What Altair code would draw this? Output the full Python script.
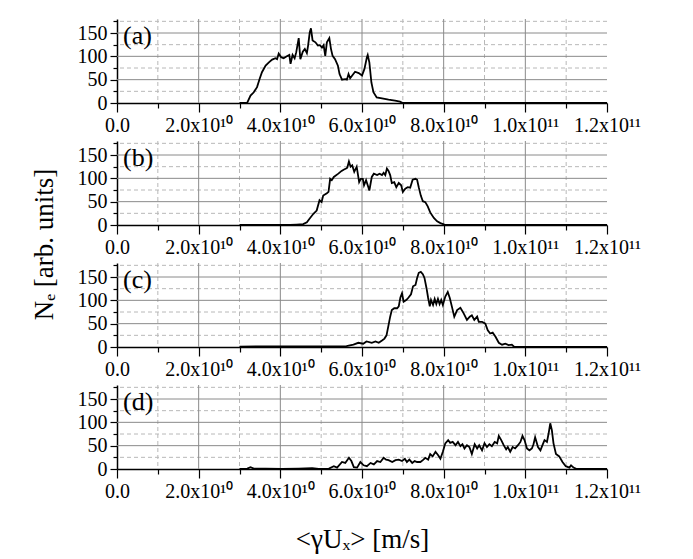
import altair as alt
import pandas as pd

FONT = "Liberation Serif"

# x values in units of 1e10 m/s
a_x = [3.0, 3.19, 3.27, 3.35, 3.43, 3.49, 3.55, 3.64, 3.72, 3.80,
       3.88, 3.92, 3.96, 4.02, 4.08, 4.16, 4.22, 4.25, 4.30, 4.35,
       4.39, 4.45, 4.49, 4.55, 4.60, 4.65, 4.68, 4.72, 4.75, 4.79,
       4.86, 4.92, 4.97, 5.02, 5.06, 5.10, 5.14, 5.20, 5.24, 5.28,
       5.34, 5.41, 5.45, 5.51, 5.59, 5.63, 5.67, 5.71, 5.77, 5.83,
       5.92, 6.00, 6.06, 6.12, 6.14, 6.18, 6.23, 6.28, 6.36, 6.49,
       6.65, 6.81, 6.93, 7.0, 12.0]
a_y = [0, 1, 16, 23, 34, 51, 66, 80, 87, 93,
       96, 94, 106, 98, 96, 100, 103, 84, 103, 96,
       109, 139, 94, 110, 116, 107, 123, 151, 160, 134,
       130, 123, 124, 119, 124, 101, 130, 139, 116, 101,
       94, 80, 62, 50, 51, 50, 62, 53, 60, 67,
       64, 59, 73, 98, 103, 87, 44, 23, 12, 10,
       7, 5, 3, 0, 0]

b_x = [3.0, 4.24, 4.40, 4.56, 4.65, 4.71, 4.81, 4.89, 4.96, 5.01,
       5.05, 5.14, 5.18, 5.22, 5.26, 5.31, 5.42, 5.50, 5.56, 5.61,
       5.64, 5.68, 5.72, 5.76, 5.81, 5.87, 5.93, 5.97, 6.02, 6.05,
       6.10, 6.14, 6.18, 6.24, 6.29, 6.37, 6.43, 6.49, 6.53, 6.57,
       6.61, 6.65, 6.69, 6.73, 6.79, 6.84, 6.90, 6.96, 7.00, 7.06,
       7.12, 7.18, 7.24, 7.31, 7.35, 7.39, 7.44, 7.49, 7.55, 7.61,
       7.67, 7.76, 7.84, 7.92, 8.02, 8.16, 12.0]
b_y = [0, 0, 1, 2, 6, 13, 24, 31, 53, 49,
       63, 68, 71, 99, 96, 103, 110, 116, 119, 121,
       123, 136, 125, 128, 114, 125, 92, 99, 99, 85,
       96, 85, 74, 103, 110, 107, 110, 107, 112, 107,
       121, 116, 107, 90, 92, 81, 90, 85, 71, 78,
       81, 80, 97, 99, 97, 81, 63, 51, 49, 40,
       27, 15, 8, 4, 1, 0, 0]

c_x = [3.0, 5.62, 5.79, 5.91, 6.03, 6.11, 6.24, 6.33, 6.41, 6.49,
       6.55, 6.60, 6.65, 6.69, 6.73, 6.79, 6.86, 6.90, 6.94, 6.98,
       7.02, 7.09, 7.14, 7.20, 7.25, 7.31, 7.35, 7.39, 7.44, 7.49,
       7.53, 7.58, 7.62, 7.66, 7.69, 7.74, 7.78, 7.82, 7.86, 7.90,
       7.94, 7.98, 8.04, 8.10, 8.15, 8.20, 8.26, 8.33, 8.41, 8.49,
       8.57, 8.64, 8.69, 8.75, 8.82, 8.86, 8.94, 9.02, 9.08, 9.14,
       9.20, 9.27, 9.35, 9.43, 9.51, 9.59, 9.67, 9.73, 12.0]
c_y = [1, 2, 5, 9, 7, 12, 9, 12, 9, 14,
       18, 25, 47, 65, 79, 83, 83, 87, 106, 115,
       97, 101, 106, 113, 130, 133, 148, 159, 161, 156,
       148, 126, 105, 87, 101, 90, 103, 92, 103, 92,
       101, 90, 108, 118, 105, 87, 65, 79, 84, 72,
       58, 65, 68, 58, 65, 54, 54, 50, 36, 29,
       31, 22, 9, 5, 7, 4, 5, 0, 0]

d_x = [3.0, 3.19, 3.27, 3.35, 3.64, 4.04, 4.45, 4.78, 4.94, 5.19,
       5.31, 5.39, 5.51, 5.59, 5.68, 5.74, 5.80, 5.88, 5.96, 6.04,
       6.12, 6.21, 6.29, 6.37, 6.45, 6.53, 6.59, 6.65, 6.74, 6.82,
       6.90, 6.98, 7.05, 7.10, 7.16, 7.23, 7.29, 7.35, 7.43, 7.49,
       7.55, 7.62, 7.67, 7.73, 7.80, 7.87, 7.92, 7.98, 8.04, 8.11,
       8.16, 8.22, 8.29, 8.35, 8.41, 8.46, 8.51, 8.57, 8.63, 8.69,
       8.76, 8.82, 8.87, 8.94, 9.00, 9.06, 9.12, 9.18, 9.25, 9.31,
       9.35, 9.41, 9.47, 9.53, 9.57, 9.63, 9.69, 9.75, 9.82, 9.88,
       9.93, 9.98, 10.04, 10.10, 10.16, 10.20, 10.24, 10.31, 10.37, 10.42,
       10.47, 10.53, 10.57, 10.61, 10.65, 10.69, 10.75, 10.83, 10.91, 10.99,
       11.08, 11.12, 11.18, 11.26, 12.0]
d_y = [0, 1, 4, 1, 1, 0, 1, 2, 0, 1,
       6, 3, 15, 13, 24, 17, 4, 3, 15, 8,
       6, 13, 10, 17, 15, 24, 20, 19, 15, 19,
       20, 17, 22, 15, 20, 13, 17, 15, 15, 19,
       24, 20, 32, 27, 37, 29, 22, 37, 55, 62,
       56, 58, 51, 58, 49, 53, 44, 51, 47, 32,
       53, 44, 51, 40, 55, 47, 53, 49, 58, 55,
       71, 62, 51, 42, 47, 37, 47, 44, 51, 58,
       71, 62, 44, 40, 44, 53, 68, 47, 40, 51,
       62, 58, 76, 98, 83, 55, 32, 27, 15, 6,
       3, 8, 3, 0, 0]

panel_labels = ["(a)", "(b)", "(c)", "(d)"]
x_major = [0, 2, 4, 6, 8, 10, 12]
x_minor = [1, 3, 5, 7, 9, 11]
x_grid_major = [2, 4, 6, 8, 10]
y_major = [0, 50, 100, 150]
y_minor = [25, 75, 125, 175]
y_grid_major = [50, 100, 150]

Y_TITLE = "Nₑ [arb. units]"
X_TITLE = "<γUₓ> [m/s]"

W, H = 490, 84
xscale = alt.Scale(domain=[0, 12], nice=False, zero=False)
yscale = alt.Scale(domain=[0, 180], nice=False)

LABEL_EXPR = ("datum.value == 0 ? '0.0' : (datum.value < 10 ? "
              "format(datum.value, '.1f') + 'x10¹⁰' : "
              "format(datum.value / 10, '.1f') + 'x10¹¹')")


def panel(xs, ys, label, ytitle=False, xtitle=False):
    df = pd.DataFrame({"x": xs, "y": ys})

    vmaj = alt.Chart(pd.DataFrame({"v": x_grid_major})).mark_rule(
        color="#8a8a8a", strokeWidth=1).encode(
        x=alt.X("v:Q", scale=xscale, axis=None))
    hmaj = alt.Chart(pd.DataFrame({"v": y_grid_major})).mark_rule(
        color="#8a8a8a", strokeWidth=1).encode(
        y=alt.Y("v:Q", scale=yscale, axis=None))
    vmin = alt.Chart(pd.DataFrame({"v": x_minor})).mark_rule(
        color="#b8b8b8", strokeWidth=1, strokeDash=[4, 3]).encode(
        x=alt.X("v:Q", scale=xscale,
                axis=alt.Axis(orient="bottom", values=x_minor, labels=False,
                              tickSize=5, tickColor="black", tickWidth=1.2,
                              domain=False, grid=False, title=None)))
    hmin = alt.Chart(pd.DataFrame({"v": y_minor})).mark_rule(
        color="#b8b8b8", strokeWidth=1, strokeDash=[4, 3]).encode(
        y=alt.Y("v:Q", scale=yscale,
                axis=alt.Axis(orient="left", values=y_minor, labels=False,
                              tickSize=4, tickColor="black", tickWidth=1.2,
                              domain=False, grid=False, title=None)))

    xaxis_kw = dict(orient="bottom", values=x_major, labelExpr=LABEL_EXPR,
                    labelFont=FONT, labelFontSize=20, labelColor="black",
                    labelPadding=3, labelFlush=False, labelOverlap=False,
                    tickSize=9, tickColor="black", tickWidth=1.2,
                    domainColor="black", domainWidth=1.5, grid=False)
    if xtitle:
        xaxis_kw.update(title=X_TITLE, titleFont=FONT, titleFontSize=27,
                        titleFontWeight="normal", titleColor="black",
                        titleX=W / 2, titleY=78, titleAlign="center",
                        titleBaseline="alphabetic")
    else:
        xaxis_kw.update(title=None)

    yaxis_kw = dict(orient="left", values=y_major, labelFont=FONT,
                    labelFontSize=20, labelColor="black", labelPadding=3,
                    tickSize=7, tickColor="black", tickWidth=1.2,
                    domainColor="black", domainWidth=1.5, grid=False)
    if ytitle:
        yaxis_kw.update(title=Y_TITLE, titleFont=FONT, titleFontSize=27,
                        titleFontWeight="normal", titleColor="black",
                        titleX=-65, titleY=103, titleAngle=270,
                        titleAlign="center", titleBaseline="alphabetic")
    else:
        yaxis_kw.update(title=None)

    line = alt.Chart(df).mark_line(color="black", strokeWidth=1.8).encode(
        x=alt.X("x:Q", scale=xscale, axis=alt.Axis(**xaxis_kw)),
        y=alt.Y("y:Q", scale=yscale, axis=alt.Axis(**yaxis_kw)),
    )

    txt = alt.Chart(pd.DataFrame({"t": [label]})).mark_text(
        font=FONT, fontSize=26, align="left", baseline="middle",
        color="black").encode(
        text="t:N", x=alt.value(6), y=alt.value(17))

    return alt.layer(vmin, hmin, vmaj, hmaj, line, txt).resolve_axis(
        x="independent", y="independent").properties(width=W, height=H)


chart = alt.vconcat(
    panel(a_x, a_y, panel_labels[0]),
    panel(b_x, b_y, panel_labels[1], ytitle=True),
    panel(c_x, c_y, panel_labels[2]),
    panel(d_x, d_y, panel_labels[3], xtitle=True),
    spacing=38, bounds="flush",
).properties(
    padding={"left": 30, "top": 18, "right": 5, "bottom": 5},
    background="white",
).configure_view(stroke=None)

chart.save("out.html", embed_options={"renderer": "svg", "actions": False})
